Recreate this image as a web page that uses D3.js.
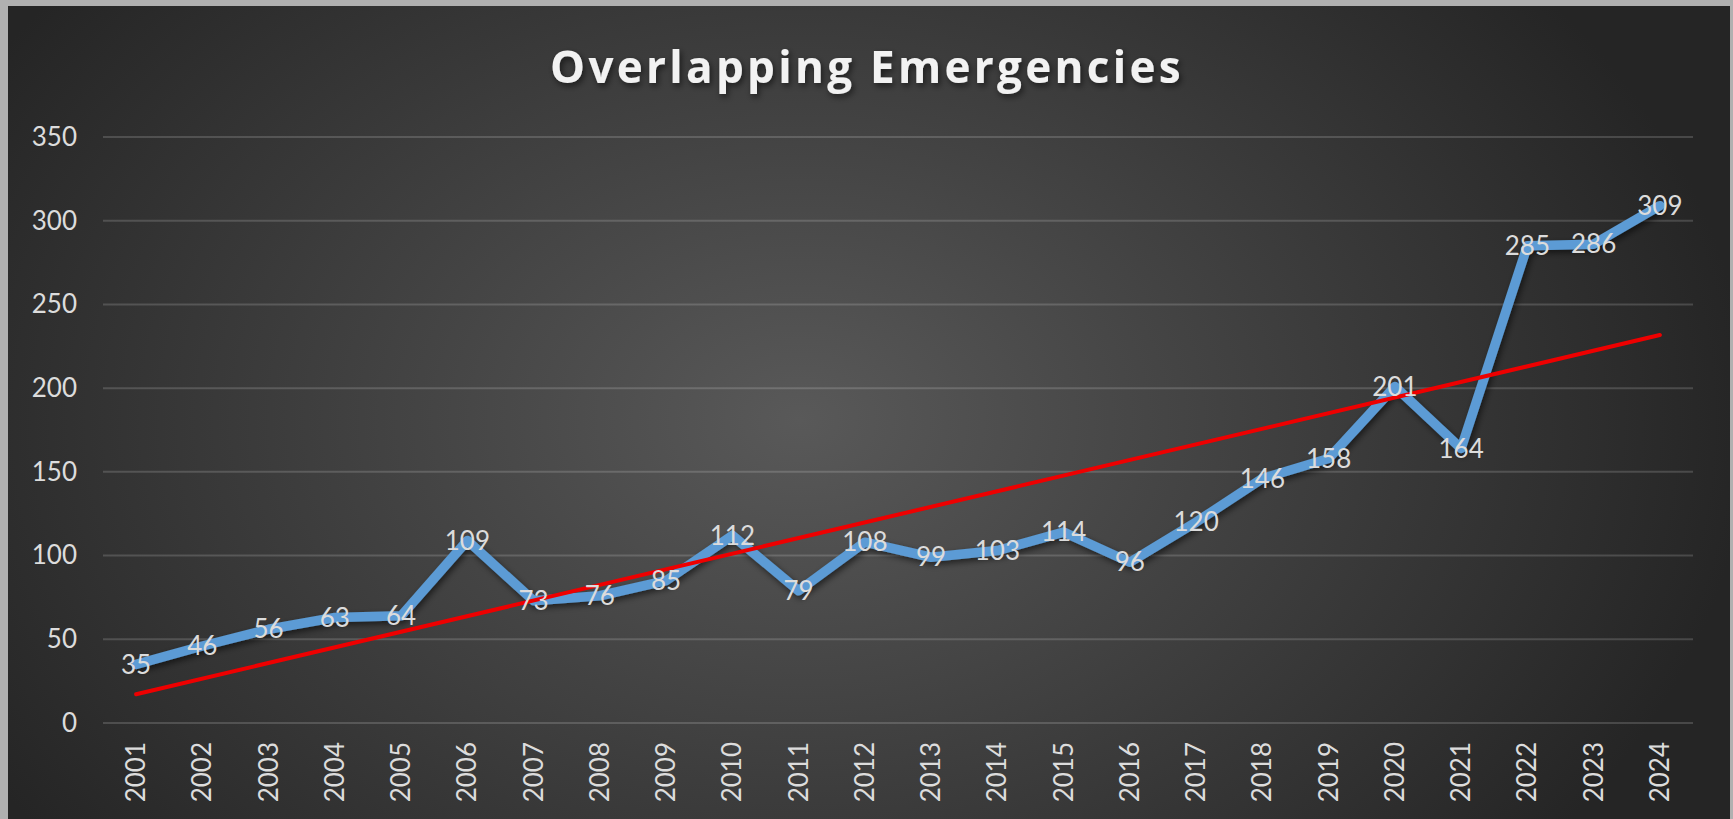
<!DOCTYPE html>
<html>
<head>
<meta charset="utf-8">
<script src="https://cdn.jsdelivr.net/npm/d3@7"></script>
<style>
	html, body { margin: 0; padding: 0; background: #b0b0b0; }
	svg { display: block; }
</style>
</head>
<body>
<div class="view-container"></div>
<script>
'use strict';

var WIDTH = 1733;
var HEIGHT = 819;
var BLUE = '#5b9bd5';
var RED = '#ee0000';
var LABEL = '#dcdcdc';
var FONT = 'Lato, "Open Sans", sans-serif';

var years = ['2001', '2002', '2003', '2004', '2005', '2006', '2007', '2008', '2009', '2010', '2011', '2012',
	'2013', '2014', '2015', '2016', '2017', '2018', '2019', '2020', '2021', '2022', '2023', '2024'];
var emergencies = [35, 46, 56, 63, 64, 109, 73, 76, 85, 112, 79, 108, 99, 103, 114, 96, 120, 146, 158, 201, 164, 285, 286, 309];
var yTicks = [0, 50, 100, 150, 200, 250, 300, 350];

var margin = {left: 103, right: 40, top: 137, bottom: 96};

var svg = d3.select('.view-container').append('svg')
	.attr('width', WIDTH)
	.attr('height', HEIGHT);

var defs = svg.append('defs');
var grad = defs.append('radialGradient')
	.attr('id', 'bg')
	.attr('gradientUnits', 'userSpaceOnUse')
	.attr('cx', 800).attr('cy', 420)
	.attr('r', 950)
	.attr('gradientTransform', 'translate(800,420) scale(1,0.72) translate(-800,-420)');
grad.append('stop').attr('offset', '0%').attr('stop-color', '#595959');
grad.append('stop').attr('offset', '100%').attr('stop-color', '#252525');

var shadow = defs.append('filter').attr('id', 'shadow')
	.attr('x', '-10%').attr('y', '-10%').attr('width', '120%').attr('height', '140%');
shadow.append('feDropShadow')
	.attr('dx', 2).attr('dy', 3).attr('stdDeviation', 3)
	.attr('flood-color', '#000').attr('flood-opacity', 0.55);

svg.append('rect')
	.attr('x', 8).attr('y', 6)
	.attr('width', 1722).attr('height', HEIGHT - 6)
	.style('fill', 'url(#bg)');

var x = d3.scaleBand()
	.domain(years)
	.range([margin.left, WIDTH - margin.right]);

var y = d3.scaleLinear()
	.domain([0, 350])
	.range([HEIGHT - margin.bottom, margin.top]);

// gridlines
svg.append('g')
	.selectAll('line')
	.data(yTicks)
	.enter().append('line')
	.attr('x1', margin.left)
	.attr('x2', WIDTH - margin.right)
	.attr('y1', function(d) { return y(d); })
	.attr('y2', function(d) { return y(d); })
	.style('stroke', '#ffffff')
	.style('stroke-opacity', 0.16)
	.style('stroke-width', 2);

// y axis labels
var yAxis = d3.axisLeft(y).tickValues(yTicks).tickSize(0).tickPadding(0);
var yg = svg.append('g')
	.attr('transform', 'translate(77,0)')
	.call(yAxis);
yg.select('.domain').remove();
yg.selectAll('text')
	.style('font-family', FONT)
	.style('font-size', '26px')
	.style('fill', LABEL);

// x axis labels, rotated
var xAxis = d3.axisBottom(x).tickSize(0).tickPadding(0);
var xg = svg.append('g')
	.attr('transform', 'translate(0,742)')
	.call(xAxis);
xg.select('.domain').remove();
xg.selectAll('text')
	.attr('y', 0)
	.attr('dy', '0.35em')
	.attr('transform', 'rotate(-90)')
	.attr('x', 0)
	.style('text-anchor', 'end')
	.style('font-family', FONT)
	.style('font-size', '26px')
	.style('fill', LABEL);

// least-squares trend line, like the spreadsheet's linear trendline
var n = emergencies.length;
var meanI = (n - 1) / 2;
var meanV = d3.mean(emergencies);
var sxy = d3.sum(emergencies, function(v, i) { return (i - meanI) * (v - meanV); });
var sxx = d3.sum(emergencies, function(v, i) { return (i - meanI) * (i - meanI); });
var slope = sxy / sxx;
var trend = [0, n - 1].map(function(i) { return {year: years[i], value: meanV + slope * (i - meanI)}; });

var cx = function(d) { return x(d.year) + x.bandwidth() / 2; };
var line = d3.line()
	.x(cx)
	.y(function(d) { return y(d.value); });

var points = years.map(function(yr, i) { return {year: yr, value: emergencies[i]}; });

svg.append('path')
	.datum(points)
	.attr('d', line)
	.attr('filter', 'url(#shadow)')
	.style('fill', 'none')
	.style('stroke', BLUE)
	.style('stroke-width', 9.5)
	.style('stroke-linejoin', 'round')
	.style('stroke-linecap', 'round');

svg.append('path')
	.datum(trend)
	.attr('d', line)
	.style('fill', 'none')
	.style('stroke', RED)
	.style('stroke-width', 4)
	.style('stroke-linecap', 'round');

// data labels, centred on the points
svg.append('g')
	.selectAll('text')
	.data(points)
	.enter().append('text')
	.attr('x', cx)
	.attr('y', function(d) { return y(d.value); })
	.attr('dy', '0.35em')
	.attr('text-anchor', 'middle')
	.style('font-family', FONT)
	.style('font-size', '26px')
	.style('fill', LABEL)
	.text(function(d) { return d.value; });

// title
svg.append('text')
	.attr('x', 867)
	.attr('y', 83)
	.attr('text-anchor', 'middle')
	.attr('filter', 'url(#shadow)')
	.style('font-family', '"Open Sans", sans-serif')
	.style('font-weight', 'bold')
	.style('font-size', '44px')
	.style('letter-spacing', '3.3px')
	.style('fill', '#f2f2f2')
	.text('Overlapping Emergencies');
</script>
</body>
</html>
